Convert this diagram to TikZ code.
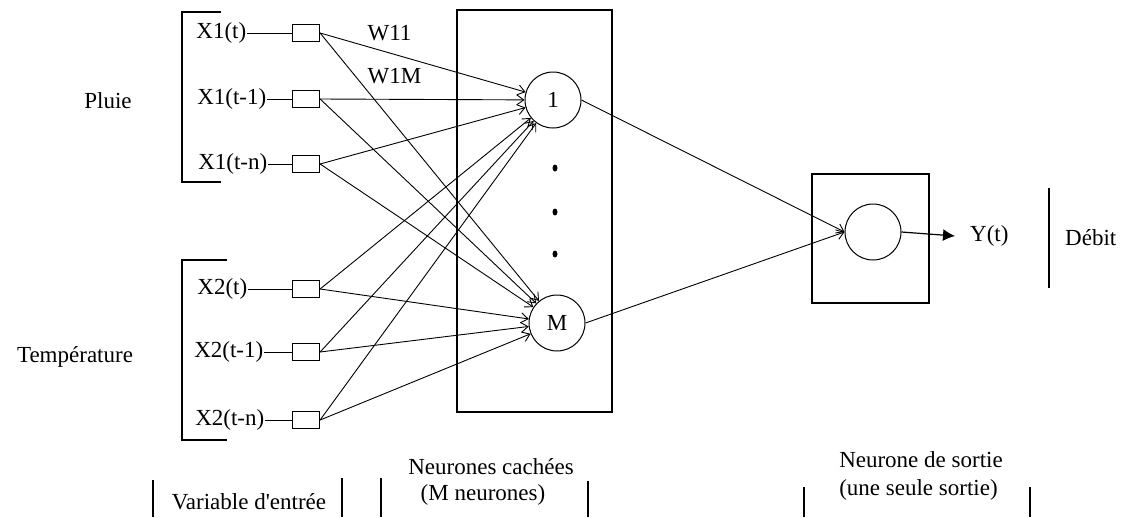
\documentclass[tikz,border=0pt]{standalone}
\usepackage{fontspec}
\setmainfont{Liberation Serif}[Ligatures=TeXOff]
\usetikzlibrary{arrows.meta}

\begin{document}
\begin{tikzpicture}[x=1pt,y=-1pt,font=\fontsize{23}{27}\selectfont,>={Straight Barb[length=7pt,width=10pt]}]
        \tikzstyle{input box}=[draw,line width=1.2pt,minimum width=27pt,minimum height=17pt,inner sep=0]
        \tikzstyle{neuron node}=[circle,draw,line width=1pt,minimum size=56pt,inner sep=0]
        \tikzstyle{frame box}=[draw,line width=1.2pt,inner sep=0]
        \tikzstyle{input label}=[anchor=east,inner sep=0.5pt]
        \tikzstyle{link}=[->,line width=0.9pt]
        \tikzstyle{sep line}=[line width=1.2pt]

        \useasboundingbox (0,0) rectangle (1127,517);

        % couches
        \node[frame box,minimum width=155pt,minimum height=402pt] (hidden) at (534.5,211) {};
        \node[frame box,minimum width=117pt,minimum height=129pt] (outbox) at (870.5,238.5) {};
        \node[neuron node] (h1) at (553,100) {1};
        \node[neuron node] (hM) at (557,323) {M};
        \node[neuron node] (out) at (873,232) {};
        \fill (555,168) ellipse [x radius=2.5pt,y radius=3.5pt];
        \fill (555,212) ellipse [x radius=2.5pt,y radius=3.5pt];
        \fill (555,254) ellipse [x radius=2.5pt,y radius=3.5pt];

        % entrees
        \node[input box] (b11) at (306,33) {};
        \node[input box] (b12) at (306,99) {};
        \node[input box] (b13) at (306,164) {};
        \node[input box] (b21) at (306,289) {};
        \node[input box] (b22) at (306,352) {};
        \node[input box] (b23) at (306,420) {};
        \node[input label] (x11) at (247,33) {X1(t)};
        \node[input label] (x12) at (267,99) {X1(t-1)};
        \node[input label] (x13) at (268,164) {X1(t-n)};
        \node[input label] (x21) at (248,289) {X2(t)};
        \node[input label] (x22) at (264,352) {X2(t-1)};
        \node[input label] (x23) at (265,420) {X2(t-n)};
        \draw[line width=1pt] (x11) -- (b11);
        \draw[line width=1pt] (x12) -- (b12);
        \draw[line width=1pt] (x13) -- (b13);
        \draw[line width=1pt] (x21) -- (b21);
        \draw[line width=1pt] (x22) -- (b22);
        \draw[line width=1pt] (x23) -- (b23);
        \draw[sep line] (221,12) -- (182,12) -- (182,182) -- (221,182);
        \draw[sep line] (227,260) -- (182,260) -- (182,440) -- (227,440);
        \node (pluie) at (108,101) {Pluie};
        \node (temp) at (75,357) {Température};

        % poids
        \draw[link] (b11.east) -- (h1);
        \draw[link] (b11.east) -- (hM);
        \draw[link] (b12.east) -- (h1);
        \draw[link] (b12.east) -- (hM);
        \draw[link] (b13.east) -- (h1);
        \draw[link] (b13.east) -- (hM);
        \draw[link] (b21.east) -- (h1);
        \draw[link] (b21.east) -- (hM);
        \draw[link] (b22.east) -- (h1);
        \draw[link] (b22.east) -- (hM);
        \draw[link] (b23.east) -- (h1);
        \draw[link] (b23.east) -- (hM);
        \node (w11) at (389.5,33) {W11};
        \node (w1m) at (394.5,76) {W1M};

        % sortie
        \draw[link] (h1.east) -- (out.west);
        \draw[link] (hM.east) -- (out.west);
        \node[anchor=west,inner sep=0] (yt) at (970,236) {Y(t)};
        \draw[line width=1.2pt,-{Latex[length=12pt,width=12pt]}] (out.east) -- ([xshift=-15pt]yt.west);
        \draw[sep line] (1049,188) -- (1049,288);
        \node[anchor=west,inner sep=0] (debit) at (1065,238) {Débit};

        % legendes
        \node (lin) at (249,502) {Variable d'entrée};
        \node (lhid1) at (491,467) {Neurones cachées};
        \node (lhid2) at (483,495) {(M neurones)};
        \node (lout1) at (921,460) {Neurone de sortie};
        \node (lout2) at (918.5,490) {(une seule sortie)};
        \draw[sep line] (153,480) -- (153,517);
        \draw[sep line] (342,478) -- (342,517);
        \draw[sep line] (381,478) -- (381,517);
        \draw[sep line] (588,481) -- (588,517);
        \draw[sep line] (804,487) -- (804,517);
        \draw[sep line] (1030,487) -- (1030,517);
\end{tikzpicture}
\end{document}
